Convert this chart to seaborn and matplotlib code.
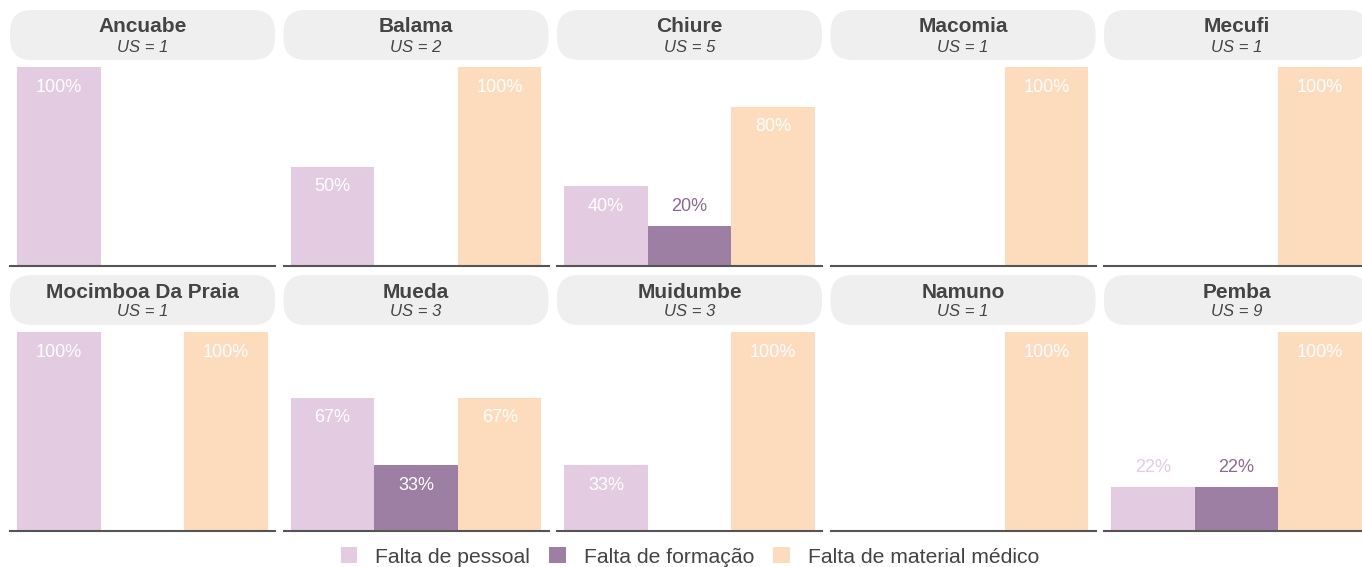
import matplotlib
matplotlib.use("Agg")
import matplotlib.pyplot as plt
from matplotlib.patches import FancyBboxPatch, Patch
from matplotlib.transforms import IdentityTransform
import seaborn as sns
import pandas as pd

# Districts, number of health units (US) and share of units reporting each problem (%)
districts = ["Ancuabe", "Balama", "Chiure", "Macomia", "Mecufi",
             "Mocimboa Da Praia", "Mueda", "Muidumbe", "Namuno", "Pemba"]
us_counts = [1, 2, 5, 1, 1, 1, 3, 3, 1, 9]
categories = ["Falta de pessoal", "Falta de formação", "Falta de material médico"]
falta_pessoal = [100, 50, 40, 0, 0, 100, 67, 33, 0, 22]
falta_formacao = [0, 0, 20, 0, 0, 0, 33, 0, 0, 22]
falta_material = [0, 100, 80, 100, 100, 100, 67, 100, 100, 100]

colors = ["#E3CBE1", "#9D7FA3", "#FDDBBD"]
text_dark = "#444444"

sns.set_theme(style="white")
plt.rcParams["font.family"] = ["Liberation Sans", "DejaVu Sans"]

W, H, DPI = 1362, 567, 100
fig = plt.figure(figsize=(W / DPI, H / DPI), dpi=DPI)

col_left = [10, 283.5, 557, 830.5, 1104]
panel_w = 265
row_top = [10, 275]          # header top (pixels from top)
header_h = 50
axes_gap = 7                  # header bottom -> plot top
plot_h = 199

palette = dict(zip(categories, colors))

for k, name in enumerate(districts):
    r, c = divmod(k, 5)
    x0 = col_left[c]
    y_head = row_top[r]
    # rounded header box in pixel coordinates
    box = FancyBboxPatch((x0, H - y_head - header_h), panel_w, header_h,
                         boxstyle="round,pad=0,rounding_size=22",
                         transform=IdentityTransform(), facecolor="#EFEFEF",
                         edgecolor="none", zorder=0)
    fig.patches.append(box)
    cx = (x0 + panel_w / 2) / W
    fig.text(cx, 1 - (y_head + 17) / H, name, ha="center", va="center",
             fontsize=15, fontweight="bold", color=text_dark)
    fig.text(cx, 1 - (y_head + 37) / H, f"US = {us_counts[k]}", ha="center",
             va="center", fontsize=12, fontstyle="italic", color=text_dark)

    ax_top = y_head + header_h + axes_gap
    ax = fig.add_axes([x0 / W, 1 - (ax_top + plot_h) / H, panel_w / W, plot_h / H])
    vals = [falta_pessoal[k], falta_formacao[k], falta_material[k]]
    df = pd.DataFrame({"categoria": categories, "valor": vals})
    sns.barplot(data=df, x="categoria", y="valor", hue="categoria",
                order=categories, hue_order=categories, palette=palette,
                saturation=1, width=1.0, linewidth=0, legend=False, ax=ax)
    ax.set_ylim(0, 100)
    ax.set_xlim(-0.584, 2.584)
    ax.set_xlabel("")
    ax.set_ylabel("")
    ax.set_xticks([])
    ax.set_yticks([])
    for s in ["top", "left", "right"]:
        ax.spines[s].set_visible(False)
    ax.spines["bottom"].set_color("#555555")
    ax.spines["bottom"].set_linewidth(1.5)
    ax.patch.set_alpha(0)

    for i, v in enumerate(vals):
        if v <= 0:
            continue
        if v >= 25:
            ax.annotate(f"{v}%", xy=(i, v), xytext=(0, -14.5),
                        textcoords="offset points", ha="center", va="center",
                        fontsize=13, color="white")
        else:
            ax.annotate(f"{v}%", xy=(i, v), xytext=(0, 14),
                        textcoords="offset points", ha="center", va="center",
                        fontsize=13, color=colors[i] if i == 0 else "#8A6A92")

handles = [Patch(facecolor=col, edgecolor="none", label=lab)
           for col, lab in zip(colors, categories)]
fig.legend(handles=handles, loc="center", bbox_to_anchor=(690 / W, 1 - 557 / H),
           ncol=3, frameon=False, fontsize=15.2, handlelength=0.8,
           handleheight=0.8, handletextpad=0.85, columnspacing=0.9,
           labelcolor=text_dark)

fig.savefig("out.png", dpi=DPI)
